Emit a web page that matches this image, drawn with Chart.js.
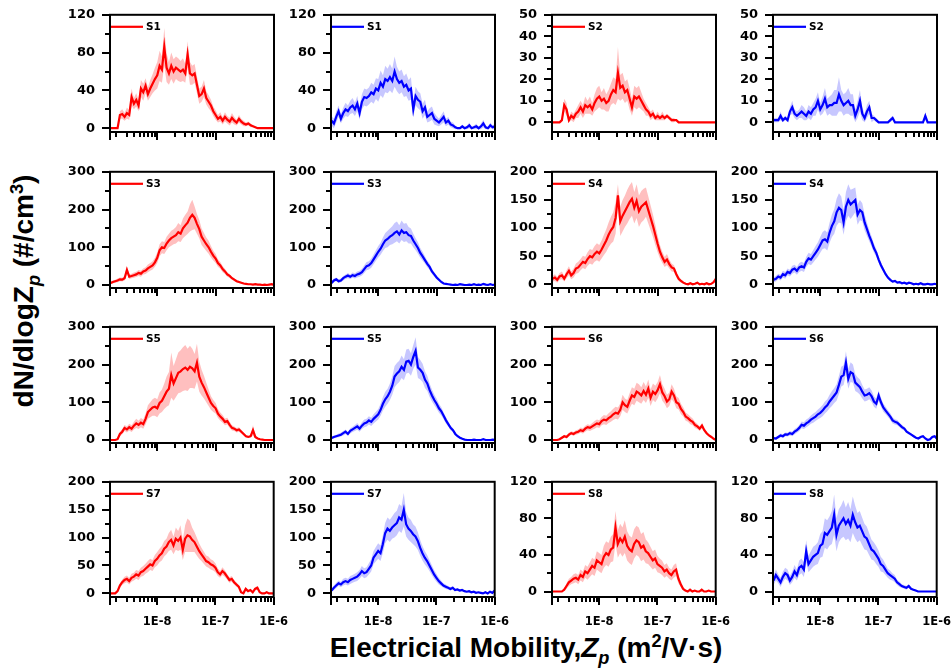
<!DOCTYPE html>
<html>
<head>
<meta charset="utf-8">
<script src="https://cdn.jsdelivr.net/npm/chart.js@4.4.1/dist/chart.umd.min.js"></script>
<style>
  body { margin: 0; background: #fff; }
  #wrap { position: relative; width: 952px; height: 672px; overflow: hidden; background: #fff; }
  #wrap canvas { position: absolute; }
  .title { position: absolute; font-family: 'Liberation Sans', Arial, sans-serif; font-weight: bold; font-size: 28px; white-space: nowrap; color: #000; }
  #ytitle { left: 24px; top: 291px; transform: translate(-50%, -50%) rotate(-90deg); }
  #xtitle { left: 526px; top: 648px; transform: translate(-50%, -50%); }
  .title sub, .title sup { font-size: 65%; line-height: 0; }
</style>
</head>
<body>
<div id="wrap">
  <div class="title" id="ytitle">dN/dlogZ<sub><i>p</i></sub> (#/cm<sup>3</sup>)</div>
  <div class="title" id="xtitle">Electricial Mobility,<i>Z<sub>p</sub></i> (m<sup>2</sup>/V·s)</div>
</div>
<script>
// mobility bins as log10(Zp), Zp in m2/V·s
const binExp = [-8.80,-8.76,-8.72,-8.68,-8.64,-8.60,-8.56,-8.52,-8.48,-8.44,
  -8.40,-8.36,-8.32,-8.28,-8.24,-8.20,-8.16,-8.12,-8.08,-8.04,
  -8.00,-7.96,-7.92,-7.88,-7.84,-7.80,-7.76,-7.72,-7.68,-7.64,
  -7.60,-7.56,-7.52,-7.48,-7.44,-7.40,-7.36,-7.32,-7.28,-7.24,
  -7.20,-7.16,-7.12,-7.08,-7.04,-7.00,-6.96,-6.92,-6.88,-6.84,
  -6.80,-6.76,-6.72,-6.68,-6.64,-6.60,-6.56,-6.52,-6.48,-6.44,
  -6.40,-6.36,-6.32,-6.28,-6.24,-6.20,-6.16,-6.12,-6.08,-6.04,
  -6.00];

const xTickValues = [1e-8, 1e-7, 1e-6];
const xTickLabels = ['1E-8', '1E-7', '1E-6'];
const xMinorTicks = [2e-9,3e-9,4e-9,5e-9,6e-9,7e-9,8e-9,9e-9,
  2e-8,3e-8,4e-8,5e-8,6e-8,7e-8,8e-8,9e-8,
  2e-7,3e-7,4e-7,5e-7,6e-7,7e-7,8e-7,9e-7];

const ticks120 = [0, 40, 80, 120], minor120 = [20, 60, 100];
const ticks50 = [0, 10, 20, 30, 40, 50], minor50 = [5, 15, 25, 35, 45];
const ticks300 = [0, 100, 200, 300], minor300 = [50, 150, 250];
const ticks200 = [0, 50, 100, 150, 200], minor200 = [25, 75, 125, 175];

// mean dN/dlogZp and standard deviation per bin
const s1Red = [0,0,0,0,14,15,12,16,14,33, 26,30,24,42,38,45,36,42,47,52, 56,66,62,86,64,58,66,60,64,62,
  60,62,58,78,58,56,58,46,34,36, 42,32,28,24,18,14,10,12,8,12, 9,7,11,8,6,10,7,5,4,5, 3,2,1,0,0,0,0,0,0,0, 0];
const s1RedSd = [0,0,0,0,4,5,4,6,5,9, 6,7,6,9,9,8,7,9,10,12, 14,16,14,20,15,12,14,13,12,12,
  11,12,10,14,12,10,10,9,8,8, 9,7,7,6,5,5,4,5,4,5, 4,4,5,4,3,4,3,3,2,2, 2,1,1,0,0,0,0,0,0,0, 0];
const s1Blue = [8,5,12,18,10,16,20,18,22,24, 20,26,16,28,33,32,34,38,36,42, 40,48,44,52,50,54,50,60,52,48,
  50,44,46,40,42,20,34,30,28,18, 22,12,14,16,10,8,6,9,12,6, 8,4,3,1,0,0,2,0,1,3, 0,1,2,0,2,5,1,0,3,1, 2];
const s1BlueSd = [5,5,6,6,5,6,7,6,7,8, 7,8,7,8,9,9,9,10,10,11, 12,13,12,14,13,14,13,16,13,12,
  12,11,12,11,12,8,10,9,9,8, 8,6,7,7,6,5,4,5,6,4, 4,3,3,2,1,1,2,1,2,3, 1,2,3,1,3,4,2,1,3,2, 3];
const s2Red = [0,0,0,0,1,8,6,1,3,2, 4,5,7,5,8,7,8,6,9,11, 12,10,11,9,10,13,15,14,23,16,
  17,14,15,11,7,12,11,12,10,8, 6,5,3,4,2,3,2,3,2,3, 2,1,1,1,0,0,0,0,0,0, 0,0,0,0,0,0,0,0,0,0, 0];
const s2RedSd = [0,0,0,0,1,3,3,1,2,2, 2,3,3,3,4,3,4,3,4,5, 5,4,5,4,5,5,6,6,12,6,
  6,5,5,5,4,5,5,5,4,3, 3,2,2,2,1,2,1,2,1,1, 1,1,1,0,0,0,0,0,0,0, 0,0,0,0,0,0,0,0,0,0, 0];
const s2Blue = [1,1,1,3,1,2,1,5,7,4, 3,4,5,4,3,5,4,6,7,10, 6,8,11,7,8,8,9,9,13,10,
  8,9,10,8,8,3,6,10,4,2, 5,7,2,2,1,0,0,0,0,0, 1,2,0,0,0,0,0,0,0,0, 0,0,0,0,0,3,0,0,0,0, 0];
const s2BlueSd = [1,1,1,2,1,1,1,2,3,2, 2,2,3,3,2,3,3,3,4,4, 3,4,5,4,4,5,6,6,8,5,
  5,5,6,5,5,3,4,5,3,2, 3,3,2,1,1,0,0,0,0,0, 1,1,0,0,0,0,0,0,0,0, 0,0,0,0,0,2,0,0,0,0, 0];
const s3Red = [5,8,10,12,15,14,18,40,22,24, 26,28,32,30,36,38,44,48,52,60, 72,92,100,98,110,118,124,128,132,140,
  136,150,158,165,178,186,178,162,148,128, 118,108,100,88,78,70,58,52,42,36, 28,24,18,14,10,8,6,4,3,2, 2,1,2,1,1,0,1,0,1,2, 0];
const s3RedSd = [3,4,4,5,5,5,6,10,6,6, 7,7,8,8,8,9,10,10,11,12, 14,16,16,16,18,18,20,20,22,24,
  22,26,28,30,36,40,30,26,24,22, 20,18,17,15,13,12,10,9,8,7, 6,5,4,4,3,3,2,2,2,1, 1,1,1,1,1,0,1,0,1,1, 0];
const s3Blue = [5,12,15,10,12,18,22,25,22,26, 24,28,30,34,42,50,52,58,68,78, 88,96,108,118,122,128,132,138,142,134,
  145,138,140,132,130,118,108,98,85,76, 66,56,48,36,28,20,14,8,4,3, 2,1,0,1,0,2,1,0,0,1, 0,2,0,1,0,3,1,0,2,0, 1];
const s3BlueSd = [4,5,5,5,5,6,6,7,6,7, 7,8,8,9,10,11,11,12,13,14, 15,16,18,20,22,22,24,26,26,24,
  26,24,24,22,20,18,16,15,13,12, 10,9,8,7,6,5,4,3,2,2, 1,1,0,1,0,1,1,0,0,1, 0,1,0,1,0,2,1,0,1,0, 1];
const s4Red = [10,12,8,14,16,10,18,24,16,20, 28,30,35,40,38,45,50,48,54,58, 55,62,70,78,88,96,102,118,158,112,
  122,130,138,146,152,136,148,130,138,142, 146,132,118,104,88,72,58,48,40,44, 36,30,28,18,10,6,3,1,0,2, 0,1,3,0,1,0,2,0,1,4, 10];
const s4RedSd = [5,6,5,6,7,5,7,8,7,8, 9,10,10,11,11,12,13,13,14,15, 15,16,18,20,22,24,26,28,20,26,
  28,28,30,30,30,28,30,28,28,28, 26,24,22,20,18,15,12,10,9,10, 8,7,6,5,4,3,2,1,0,2, 0,1,2,0,1,0,2,0,1,3, 5];
const s4Blue = [8,10,14,12,18,16,22,20,26,28, 24,30,32,30,40,46,44,50,56,62, 70,78,80,76,92,104,112,128,136,132,
  110,138,150,142,146,150,124,132,128,110, 98,86,76,64,56,44,34,26,18,12, 8,5,6,3,4,2,3,1,3,2, 0,1,0,2,0,0,1,0,0,1, 0];
const s4BlueSd = [4,5,5,5,6,6,6,6,7,7, 7,8,8,8,9,10,10,11,12,13, 14,15,16,16,18,20,22,24,26,24,
  22,26,28,26,24,22,18,18,16,14, 12,10,9,8,7,6,5,4,3,3, 2,2,2,1,2,1,1,1,1,1, 0,1,0,1,0,0,1,0,0,1, 0];
const s5Red = [0,0,0,2,16,22,32,28,34,30, 38,44,40,46,42,56,74,80,86,88, 84,98,104,116,128,136,172,150,164,178,
  182,188,192,186,194,190,182,205,168,152, 140,126,112,98,90,84,70,62,56,48, 50,40,32,30,26,28,22,16,10,8, 10,26,8,4,2,1,0,0,0,0, 0];
const s5RedSd = [0,0,0,2,6,7,8,8,9,9, 10,12,11,12,12,14,18,20,22,24, 24,28,30,34,40,44,60,46,50,54,
  56,58,60,56,56,52,46,50,40,34, 30,26,22,18,16,14,12,11,10,9, 9,8,7,6,6,6,5,4,3,3, 4,14,4,2,1,1,0,0,0,0, 0];
const s5Blue = [5,8,10,12,14,18,22,16,24,28, 32,36,30,38,44,46,52,48,56,62, 68,80,96,108,116,128,144,168,176,182,
  194,186,208,210,200,220,236,192,186,178, 160,150,132,118,106,96,84,76,64,52, 42,32,26,16,10,6,3,1,0,0, 0,1,0,0,0,2,0,0,0,1, 0];
const s5BlueSd = [3,4,4,5,5,6,6,5,7,7, 8,9,8,9,10,10,11,11,12,13, 14,16,18,20,20,22,24,28,28,28,
  30,28,32,32,30,32,36,28,26,24, 22,20,18,16,14,13,12,11,9,8, 7,6,5,4,3,2,2,1,0,0, 0,1,0,0,0,1,0,0,0,1, 0];
const s6Red = [0,0,0,2,6,10,8,14,18,16, 20,22,26,24,30,34,32,36,40,44, 42,50,54,52,58,62,68,72,70,80,
  100,92,88,104,118,114,128,124,118,130, 120,136,112,128,122,132,148,126,116,102, 108,128,118,100,96,82,74,62,58,52, 48,40,36,30,38,26,18,12,8,3, 0];
const s6RedSd = [0,0,0,2,3,4,4,5,5,5, 6,6,7,7,8,8,8,9,10,10, 10,11,12,12,13,14,15,16,16,17,
  20,18,18,20,22,22,24,24,22,24, 22,24,22,22,22,22,24,22,20,18, 18,20,18,16,15,14,12,11,10,10, 9,8,7,6,7,5,4,3,2,1, 0];
const s6Blue = [5,4,8,12,10,15,14,18,16,22, 26,32,40,38,44,48,54,58,62,68, 72,78,86,92,102,110,118,126,146,168,
  172,205,162,180,176,152,146,140,128,118, 120,124,116,102,96,118,100,86,78,70, 62,52,48,46,40,34,30,22,18,14, 10,6,4,8,10,4,0,2,8,10, 3];
const s6BlueSd = [3,3,4,5,5,5,5,6,6,7, 7,8,9,9,10,10,11,12,12,13, 14,15,16,16,18,20,20,22,24,26,
  26,30,26,26,24,22,20,20,18,16, 16,16,15,14,13,14,12,11,10,9, 9,8,7,7,6,6,5,4,4,3, 3,2,2,3,4,2,1,1,3,4, 2];
const s7Red = [0,0,0,4,14,20,24,26,22,28, 30,34,32,38,40,44,48,52,50,58, 62,68,72,80,84,92,96,86,98,94,
  100,78,98,104,102,96,92,84,76,70, 64,58,56,52,50,46,38,34,40,36, 30,24,26,20,16,12,2,0,8,4, 6,2,8,10,2,0,0,2,0,0, 0];
const s7RedSd = [0,0,0,2,4,5,6,6,6,7, 7,8,8,8,9,9,10,10,10,11, 12,12,13,14,14,16,18,16,20,18,
  22,18,24,30,28,22,18,16,14,12, 11,10,10,9,9,8,7,6,7,6, 5,5,5,4,4,3,2,1,3,2, 2,1,3,3,1,0,0,1,0,0, 0];
const s7Blue = [5,10,14,18,16,20,22,20,24,26, 28,30,34,40,36,38,44,50,64,70, 76,72,88,108,116,112,118,122,126,136,
  132,150,124,116,112,106,102,94,82,72, 64,58,50,42,34,28,22,18,14,12, 10,8,10,6,7,5,6,4,3,4, 2,3,1,2,1,0,2,0,3,1, 5];
const s7BlueSd = [3,4,5,5,5,6,6,6,7,7, 7,8,8,9,9,9,10,11,12,13, 14,14,16,18,20,20,20,22,22,24,
  24,30,22,20,20,18,18,16,14,13, 12,11,10,9,8,7,6,5,4,4, 3,3,3,2,2,2,2,2,1,2, 1,1,1,1,1,0,1,0,2,1, 3];
const s8Red = [0,0,0,0,0,2,6,10,12,14, 15,13,18,16,22,20,24,28,26,34, 32,30,38,42,40,46,48,70,52,58,
  54,60,50,46,44,52,56,54,48,50, 44,42,38,34,36,30,28,26,22,24, 20,18,22,24,14,8,3,1,0,2, 0,1,0,0,2,0,0,1,0,0, 0];
const s8RedSd = [0,0,0,0,0,1,3,4,4,5, 5,5,6,6,7,7,8,9,9,10, 10,10,12,13,13,14,15,18,15,16,
  16,18,16,15,15,16,16,16,15,15, 13,12,11,10,10,9,8,8,7,7, 6,6,7,7,5,3,2,1,0,1, 0,1,0,0,1,0,0,1,0,0, 0];
const s8Blue = [12,18,14,10,16,20,18,12,16,22, 18,26,28,24,44,30,34,38,40,42, 50,52,64,62,66,70,84,62,72,76,
  80,74,78,72,84,76,70,72,66,60, 58,52,46,44,40,36,30,28,24,20, 18,16,14,10,8,6,5,4,6,3, 2,1,0,0,0,0,0,0,0,0, 0];
const s8BlueSd = [5,6,5,5,6,6,6,5,6,7, 6,8,8,8,12,9,10,11,11,12, 13,14,16,16,16,18,22,18,18,18,
  20,18,20,18,20,18,16,16,15,14, 13,12,11,10,10,9,8,7,6,5, 5,4,4,3,3,2,2,2,2,1, 1,1,0,0,0,0,0,0,0,0, 0];

const axisS1 = { min: -4, max: 120, major: ticks120, minor: minor120 };
const axisS2 = { min: -4.5, max: 50, major: ticks50, minor: minor50 };
const axisS3 = { min: -8, max: 300, major: ticks300, minor: minor300 };
const axisS4 = { min: -6.5, max: 200, major: ticks200, minor: minor200 };
const axisS7 = { min: -6.5, max: 200, major: ticks200, minor: minor200 };
const axisS8 = { min: -6, max: 120, major: ticks120, minor: minor120 };

const RED = { line: '#ff0000', band: 'rgba(255, 0, 0, 0.25)' };
const BLUE = { line: '#0000ff', band: 'rgba(0, 0, 255, 0.22)' };

const panels = [
  { label: 'S1', col: RED, mean: s1Red, sd: s1RedSd, axis: axisS1 },
  { label: 'S1', col: BLUE, mean: s1Blue, sd: s1BlueSd, axis: axisS1 },
  { label: 'S2', col: RED, mean: s2Red, sd: s2RedSd, axis: axisS2 },
  { label: 'S2', col: BLUE, mean: s2Blue, sd: s2BlueSd, axis: axisS2 },
  { label: 'S3', col: RED, mean: s3Red, sd: s3RedSd, axis: axisS3 },
  { label: 'S3', col: BLUE, mean: s3Blue, sd: s3BlueSd, axis: axisS3 },
  { label: 'S4', col: RED, mean: s4Red, sd: s4RedSd, axis: axisS4 },
  { label: 'S4', col: BLUE, mean: s4Blue, sd: s4BlueSd, axis: axisS4 },
  { label: 'S5', col: RED, mean: s5Red, sd: s5RedSd, axis: axisS3 },
  { label: 'S5', col: BLUE, mean: s5Blue, sd: s5BlueSd, axis: axisS3 },
  { label: 'S6', col: RED, mean: s6Red, sd: s6RedSd, axis: axisS3 },
  { label: 'S6', col: BLUE, mean: s6Blue, sd: s6BlueSd, axis: axisS3 },
  { label: 'S7', col: RED, mean: s7Red, sd: s7RedSd, axis: axisS7 },
  { label: 'S7', col: BLUE, mean: s7Blue, sd: s7BlueSd, axis: axisS7 },
  { label: 'S8', col: RED, mean: s8Red, sd: s8RedSd, axis: axisS8 },
  { label: 'S8', col: BLUE, mean: s8Blue, sd: s8BlueSd, axis: axisS8 }
];

// grid placement of the plot boxes (page pixels)
const colLeft = [110, 331, 552, 773];
const rowTop = [15, 172, 327, 482];
const rowH = [117, 116, 116, 115];
const plotW = 164;
const padL = 60, padT = 10, padR = 8, xAxisH = 30, padB = 4;
const xMin = 1.55e-9, xMax = 1e-6;

const tickFont = { family: 'DejaVu Sans', weight: 'bold', size: 13 };

// box, outward ticks and the little legend
const framePlugin = {
  id: 'frame',
  afterDraw(chart, args, opts) {
    const { ctx, chartArea: a } = chart;
    const xs = chart.scales.x, ys = chart.scales.y;
    ctx.save();
    ctx.strokeStyle = '#000';
    ctx.lineWidth = 2;
    ctx.lineCap = 'square';
    ctx.strokeRect(a.left, a.top, a.right - a.left, a.bottom - a.top);
    ctx.lineCap = 'butt';
    ctx.beginPath();
    opts.axis.major.forEach(v => {
      const py = Math.round(ys.getPixelForValue(v));
      ctx.moveTo(a.left - 8, py); ctx.lineTo(a.left, py);
    });
    opts.axis.minor.forEach(v => {
      const py = Math.round(ys.getPixelForValue(v));
      ctx.moveTo(a.left - 5, py); ctx.lineTo(a.left, py);
    });
    ctx.moveTo(a.left, a.bottom); ctx.lineTo(a.left, a.bottom + 8);
    xTickValues.forEach(v => {
      const px = Math.round(xs.getPixelForValue(v));
      ctx.moveTo(px, a.bottom); ctx.lineTo(px, a.bottom + 8);
    });
    xMinorTicks.forEach(v => {
      const px = Math.round(xs.getPixelForValue(v));
      ctx.moveTo(px, a.bottom); ctx.lineTo(px, a.bottom + 5);
    });
    ctx.stroke();

    const ly = a.top + 12;
    ctx.strokeStyle = opts.color;
    ctx.lineWidth = 2.2;
    ctx.beginPath();
    ctx.moveTo(a.left + 1, ly); ctx.lineTo(a.left + 33, ly);
    ctx.stroke();
    ctx.fillStyle = '#000';
    ctx.font = 'bold 10.5px "DejaVu Sans"';
    ctx.textBaseline = 'middle';
    ctx.fillText(opts.label, a.left + 36, ly + 0.5);
    ctx.restore();
  }
};

function panelConfig(p, r) {
  const pts = arr => binExp.map((e, i) => ({ x: Math.pow(10, e), y: arr[i] }));
  const upper = p.mean.map((v, i) => v + p.sd[i]);
  const lower = p.mean.map((v, i) => v - p.sd[i]);
  return {
    type: 'line',
    data: {
      datasets: [
        { data: pts(p.mean), borderColor: p.col.line, borderWidth: 2.2, pointRadius: 0, fill: false, tension: 0 },
        { data: pts(upper), borderColor: 'transparent', borderWidth: 0, pointRadius: 0, backgroundColor: p.col.band, fill: '+1' },
        { data: pts(lower), borderColor: 'transparent', borderWidth: 0, pointRadius: 0, fill: false }
      ]
    },
    options: {
      responsive: false,
      maintainAspectRatio: false,
      animation: false,
      devicePixelRatio: 1,
      layout: { padding: { left: 0, top: padT, right: padR, bottom: padB } },
      scales: {
        x: {
          type: 'logarithmic', min: xMin, max: xMax,
          grid: { display: false, drawTicks: false }, border: { display: false },
          afterBuildTicks: s => { s.ticks = xTickValues.map(v => ({ value: v })); },
          afterFit: s => { s.height = xAxisH; },
          ticks: {
            display: r === 3, autoSkip: false, maxRotation: 0, padding: 18,
            color: '#000', font: { family: 'DejaVu Sans', weight: 'bold', size: 11.5 },
            callback: (v, i) => xTickLabels[i]
          }
        },
        y: {
          min: p.axis.min, max: p.axis.max,
          grid: { display: false, drawTicks: false }, border: { display: false },
          afterBuildTicks: s => { s.ticks = p.axis.major.map(v => ({ value: v })); },
          afterFit: s => { s.width = padL; },
          ticks: { padding: 15, color: '#000', font: tickFont }
        }
      },
      plugins: {
        legend: { display: false },
        tooltip: { enabled: false },
        frame: { axis: p.axis, color: p.col.line, label: p.label }
      }
    },
    plugins: [framePlugin]
  };
}

function drawPanel(canvas, w, h, p, r) {
  canvas.width = Math.round(w);
  canvas.height = Math.round(h);
  canvas.style.width = canvas.width + 'px';
  canvas.style.height = canvas.height + 'px';
  return new Chart(canvas, panelConfig(p, r));
}

const wrap = document.getElementById('wrap');

panels.forEach((p, k) => {
  const r = Math.floor(k / 4), c = k % 4;
  const canvas = document.createElement('canvas');
  wrap.appendChild(canvas);
  let w = padL + plotW + padR, h = padT + rowH[r] + xAxisH + padB;
  let chart = drawPanel(canvas, w, h, p, r);
  let a = chart.chartArea;
  // the layout may eat some room for tick labels; grow the canvas to keep the plot box size
  const dw = plotW - (a.right - a.left), dh = rowH[r] - (a.bottom - a.top);
  if (Math.abs(dw) > 0.5 || Math.abs(dh) > 0.5) {
    chart.destroy();
    w += dw; h += dh;
    chart = drawPanel(canvas, w, h, p, r);
    a = chart.chartArea;
  }
  canvas.style.left = Math.round(colLeft[c] - a.left) + 'px';
  canvas.style.top = Math.round(rowTop[r] - a.top) + 'px';
});
</script>
</body>
</html>
